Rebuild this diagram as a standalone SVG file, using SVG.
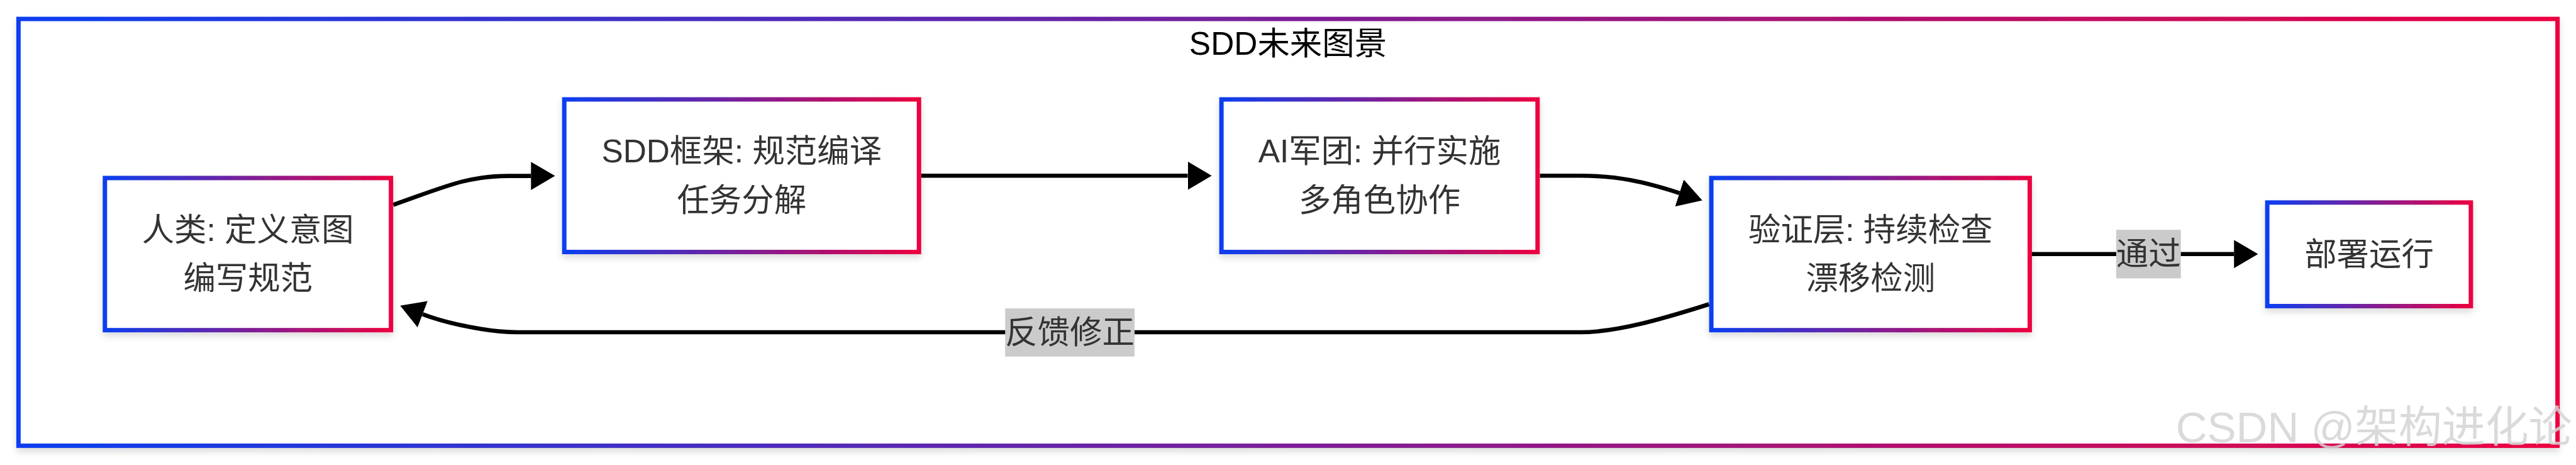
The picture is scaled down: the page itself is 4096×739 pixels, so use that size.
<svg xmlns="http://www.w3.org/2000/svg" width="4096" height="739" viewBox="0 0 4096 739">
<defs>
<linearGradient id="g" x1="0" y1="0" x2="1" y2="0">
<stop offset="0" stop-color="#0a3ef0"/>
<stop offset="1" stop-color="#ec0040"/>
</linearGradient>
<filter id="sh" x="-5%" y="-10%" width="110%" height="130%">
<feDropShadow dx="0" dy="8" stdDeviation="7" flood-color="#000" flood-opacity="0.14"/>
</filter>
<marker id="arr" viewBox="0 0 52 61" refX="0" refY="30.5" markerWidth="52" markerHeight="61" markerUnits="userSpaceOnUse" orient="auto">
<path d="M0,0 L52,30.5 L0,61 z" fill="#000"/>
</marker>
<style>
.box { fill:#fff; stroke:url(#g); stroke-width:9.5; filter:url(#sh); }
.nt { font-family:"Liberation Sans","Noto Sans CJK SC",sans-serif; font-size:70px; fill:#333; text-anchor:middle; }
.title { font-family:"Liberation Sans","Noto Sans CJK SC",sans-serif; font-size:70px; fill:#000; text-anchor:middle; }
.edge { fill:none; stroke:#000; stroke-width:9; marker-end:url(#arr); }
.lblbg { fill:#cbcbcb; }
.wm { font-family:"Liberation Sans","Noto Sans CJK SC",sans-serif; font-size:94px; fill:#d4d4d4; fill-opacity:0.85; }
</style>
</defs>
<rect x="0" y="0" width="4096" height="739" fill="#fff"/>
<g transform="scale(0.73484)">
<g id="frame">
<rect class="box" x="40" y="41" width="5494" height="923"/>
<text class="title" x="2787" y="119">SDD未来图景</text>
</g>
<g id="connectors">
<path class="edge" d="M851,443 C960,405 1010,380.5 1100,380.5 L1149,380.5"/>
<path class="edge" d="M1993,380 L2570,380"/>
<path class="edge" d="M3332,380 L3420,380 C3500,380 3558,393 3634,417.5"/>
<path class="edge" d="M4396,549.5 L4834,549.5"/>
<path class="edge" d="M3698,658 C3600,689 3500,718.6 3420,718.6 L1120,718.6 C1060,718.6 970.5,700.9 914.5,679.5"/>
<g id="label-pass">
<rect class="lblbg" x="4579" y="497" width="140" height="105"/>
<text class="nt" x="4649" y="572.6">通过</text>
</g>
<g id="label-feedback">
<rect class="lblbg" x="2175" y="667" width="280" height="104"/>
<text class="nt" x="2315" y="742.6">反馈修正</text>
</g>
</g>
<g id="human">
<rect class="box" x="227" y="385" width="619" height="329"/>
<text class="nt" x="536.5" y="521">人类: 定义意图</text>
<text class="nt" x="536.5" y="626">编写规范</text>
</g>
<g id="sdd">
<rect class="box" x="1221" y="215" width="767.5" height="330"/>
<text class="nt" x="1604.75" y="351.6">SDD框架: 规范编译</text>
<text class="nt" x="1604.75" y="456.6">任务分解</text>
</g>
<g id="ai">
<rect class="box" x="2643" y="215" width="684" height="330"/>
<text class="nt" x="2985" y="351.6">AI军团: 并行实施</text>
<text class="nt" x="2985" y="456.6">多角色协作</text>
</g>
<g id="verify">
<rect class="box" x="3703" y="385" width="689" height="329"/>
<text class="nt" x="4047.5" y="521">验证层: 持续检查</text>
<text class="nt" x="4047.5" y="626">漂移检测</text>
</g>
<g id="deploy">
<rect class="box" x="4906" y="438" width="440.5" height="224"/>
<text class="nt" x="5126.25" y="573.6">部署运行</text>
</g>
<text class="wm" x="4708" y="956">CSDN @架构进化论</text>
</g>
</svg>
